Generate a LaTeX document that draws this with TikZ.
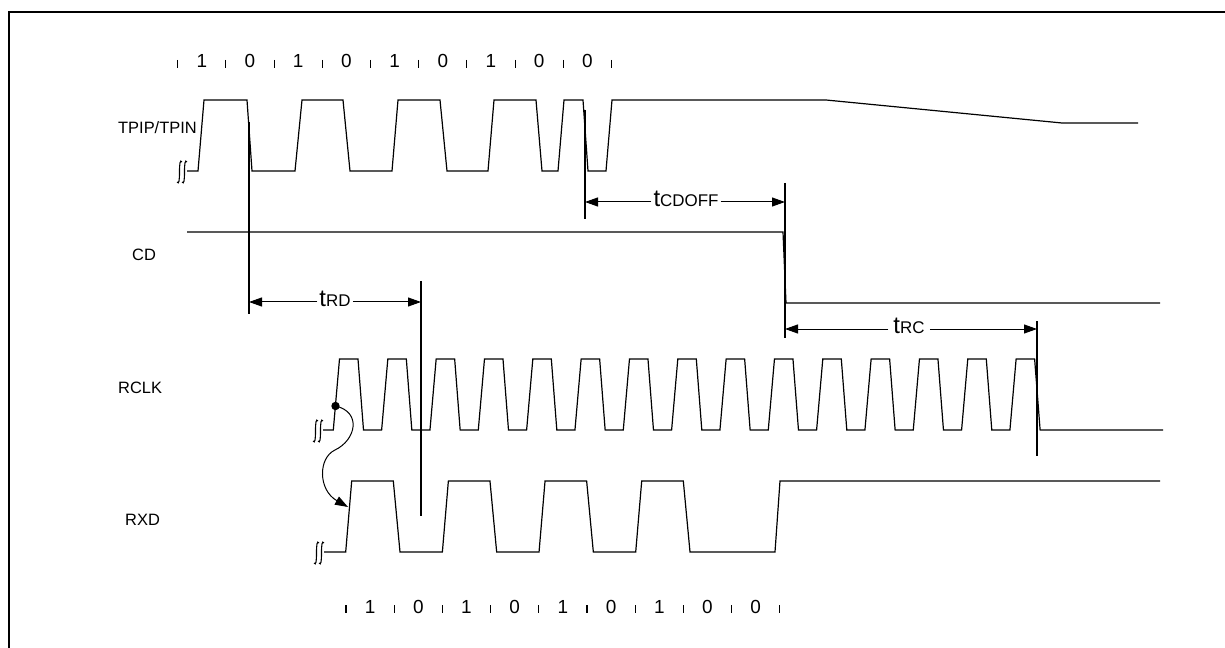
\documentclass[tikz,border=0pt]{standalone}
\usepackage{fontspec}
\setmainfont{Liberation Sans}
\usetikzlibrary{arrows.meta}

% break mark: two small hooked strokes
\newcommand{\brkhook}[2]{%
  \draw[line width=1.1bp] (#1+2.5,#2-10) .. controls (#1+0.5,#2-13) and (#1,#2-8) .. (#1,#2)
     .. controls (#1,#2+8) and (#1-0.5,#2+13) .. (#1-2.5,#2+10);}
\newcommand{\brkmark}[2]{\brkhook{#1-2.5}{#2}\brkhook{#1+2.5}{#2}}
\newcommand{\tsub}[2]{{\fontsize{24}{24}\selectfont #1}{\fontsize{17}{17}\selectfont #2}}

\tikzset{
  wave/.style={line width=1.2bp, line join=miter},
  marker/.style={line width=1.1bp},
  dimarrow/.style={line width=1bp, -{Triangle[length=13bp,width=9bp]}},
  sig/.style={anchor=west, inner sep=0pt, font=\fontsize{16.5}{20}\selectfont},
  bit/.style={anchor=base, font=\fontsize{19}{21}\selectfont, inner sep=0pt}
}

\begin{document}
\begin{tikzpicture}[x=1bp,y=-1bp]
  \useasboundingbox (0,0) rectangle (1225,648);
  \draw[line width=2bp] (9,648) -- (9,12) -- (1225,12);

  % signal names
  \node[sig] (tpip) at (118,128) {TPIP/TPIN};
  \node[sig] (cd) at (132,255) {CD};
  \node[sig] (rclk) at (118,388) {RCLK};
  \node[sig] (rxd) at (125,520) {RXD};

  % bit cells, top and bottom
  \foreach \k in {0,...,9} {
    \draw[marker] ({177.7+48.2*\k},60) -- ({177.7+48.2*\k},68);
    \draw[marker] ({346+48.2*\k},605) -- ({346+48.2*\k},613);
  }
  \foreach \b [count=\k from 0] in {1,0,1,0,1,0,1,0,0} {
    \node[bit] (top\k) at ({201.8+48.2*\k},68) {\b};
    \node[bit] (bot\k) at ({370.1+48.2*\k},613) {\b};
  }

  % TPIP/TPIN
  \brkmark{182}{172}
  \draw[wave] (187,171) -- (198,171) -- (204,100) -- (247,100) -- (252,171)
    -- (295,171) -- (302,100) -- (343,100) -- (350,171) -- (392,171) -- (398,100)
    -- (440,100) -- (447,171) -- (488,171) -- (494,100) -- (536,100) -- (542,171)
    -- (558,171) -- (564,100) -- (583,100) -- (588,171) -- (606,171) -- (612,100)
    -- (826,100) -- (1062,123) -- (1138,123);

  % CD
  \draw[wave] (187,232) -- (783,232) -- (786,303) -- (1160,303);

  % RCLK
  \brkmark{318}{431}
  \draw[wave] (323,430) \foreach \k in {0,...,14} {
      -- ({333.3+48.33*\k},430) -- ({339.5+48.33*\k},359)
      -- ({358+48.33*\k},359) -- ({363.5+48.33*\k},430) } -- (1163,430);

  % RXD
  \brkmark{319}{553}
  \draw[wave] (324,552) \foreach \k in {0,...,3} {
      -- ({345.7+96.67*\k},552) -- ({351.7+96.67*\k},481)
      -- ({393.3+96.67*\k},481) -- ({400+96.67*\k},552) }
    -- (775,552) -- (780,481) -- (1160,481);

  % dot and sampling arrow
  \fill (335.5,406) circle (4.2bp);
  \draw[line width=1bp, -{Triangle[length=13bp,width=9bp]}] (335.5,406)
    .. controls (362,412) and (356,440) .. (335,450)
    .. controls (318,458) and (318,490) .. (348,507);

  % timing markers
  \draw[marker] (249,122) -- (249,314);
  \draw[marker] (421,281) -- (421,516);
  \draw[marker] (585,110) -- (585,219);
  \draw[marker] (785,183) -- (785,338);
  \draw[marker] (1037,321) -- (1037,456);

  \coordinate (rdL) at (249,302);
  \coordinate (rdR) at (421,302);
  \coordinate (cdL) at (585,202);
  \coordinate (cdR) at (785,202);
  \coordinate (rcL) at (785,329);
  \coordinate (rcR) at (1037,329);

  \node[inner sep=2bp] (trd) at (335,299) {\tsub{t}{RD}};
  \node[inner sep=2bp] (tcdoff) at (686,199) {\tsub{t}{CDOFF}};
  \node[inner sep=5bp] (trc) at (909,326) {\tsub{t}{RC}};

  \draw[dimarrow] (trd.west |- rdL) -- (rdL);
  \draw[dimarrow] (trd.east |- rdR) -- (rdR);
  \draw[dimarrow] (tcdoff.west |- cdL) -- (cdL);
  \draw[dimarrow] (tcdoff.east |- cdR) -- (cdR);
  \draw[dimarrow] (trc.west |- rcL) -- (rcL);
  \draw[dimarrow] (trc.east |- rcR) -- (rcR);
\end{tikzpicture}
\end{document}
